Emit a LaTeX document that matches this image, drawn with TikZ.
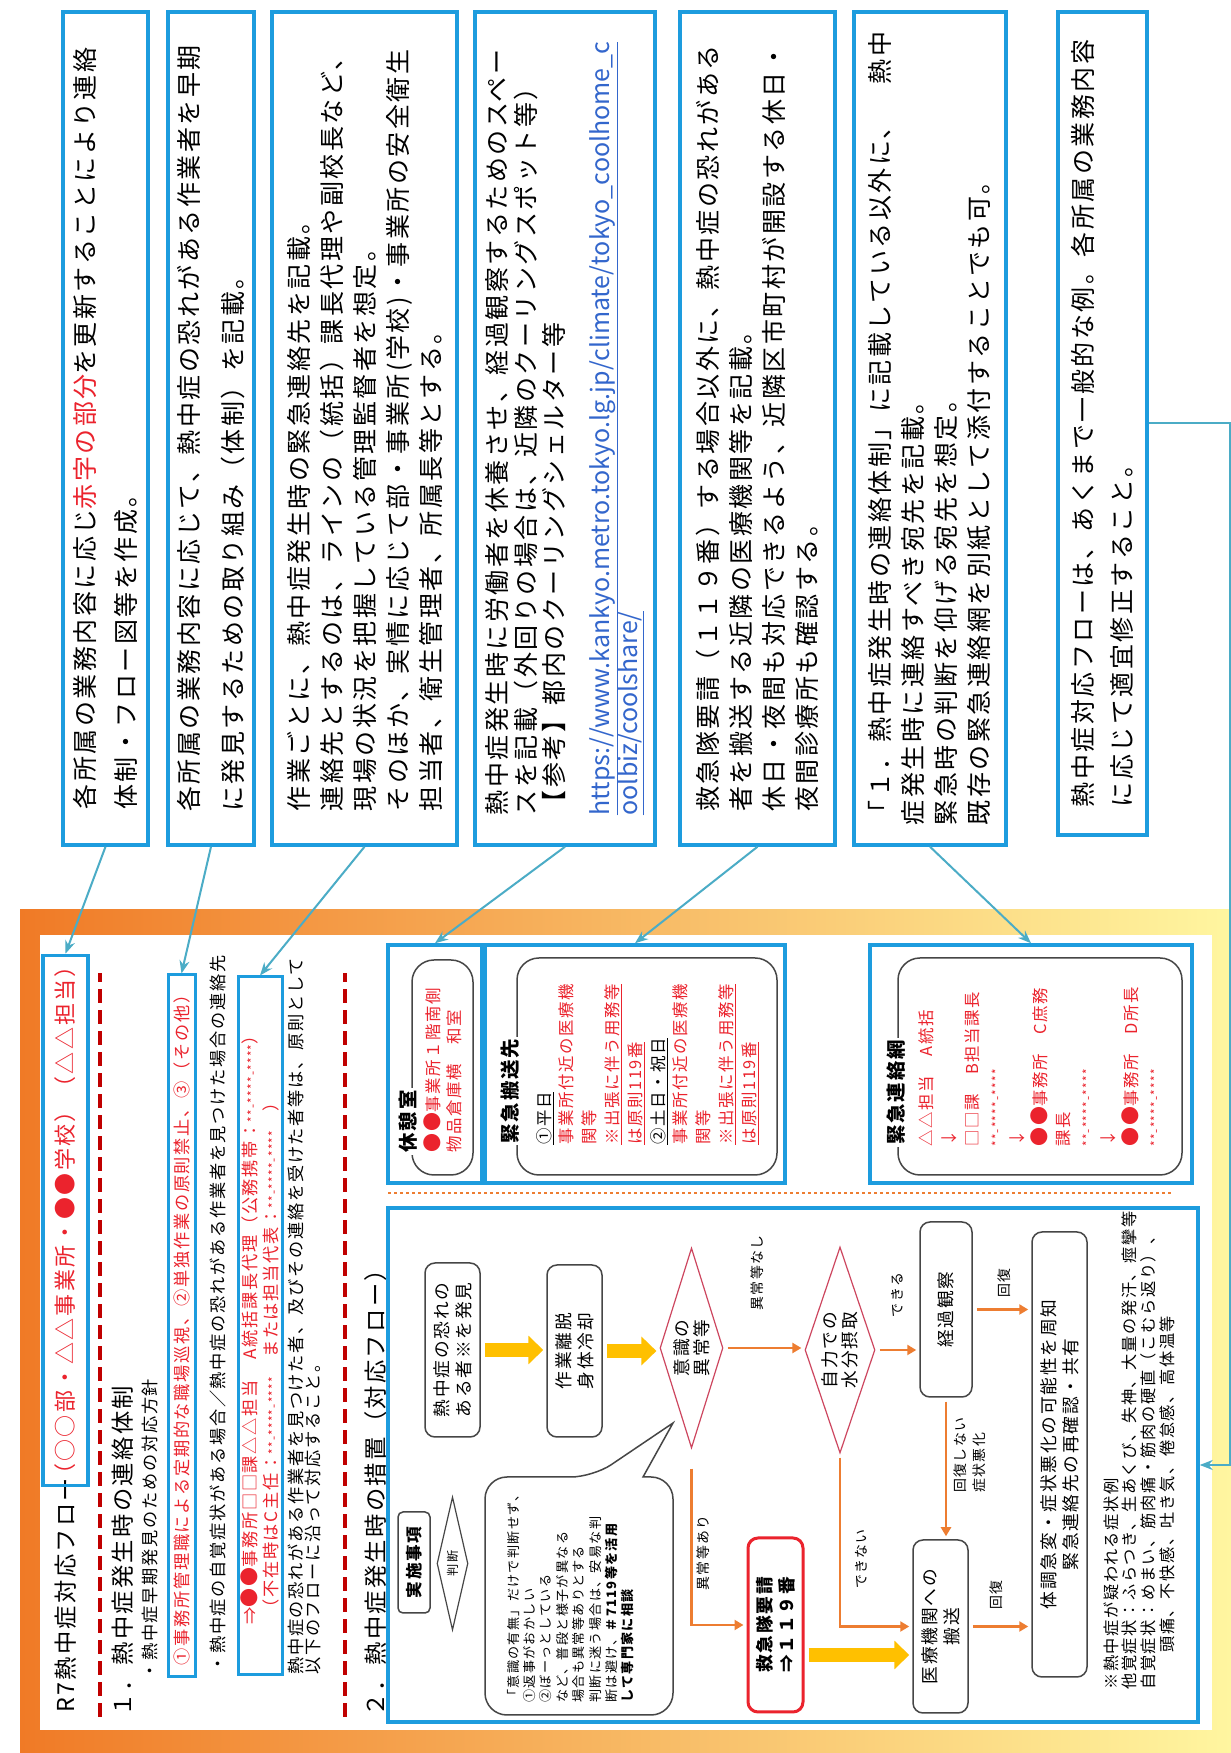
\documentclass[tikz,border=0pt]{standalone}
\usepackage{fontspec}
\setmainfont{Noto Sans CJK JP}[LetterSpace=10]
\newfontfamily\urlfont{Noto Sans CJK JP}
\usepackage{xcolor}
\usepackage{tikz}
\usetikzlibrary{shapes.geometric,arrows.meta,calc}

\definecolor{notebd}{RGB}{29,156,222}
\definecolor{linkln}{RGB}{75,172,198}
\definecolor{redtx}{RGB}{235,35,45}
\definecolor{dashrd}{RGB}{192,0,0}
\definecolor{flowor}{RGB}{237,125,49}
\definecolor{flowyl}{RGB}{255,192,0}
\definecolor{diabd}{RGB}{205,70,95}
\definecolor{grybd}{RGB}{70,70,70}
\definecolor{urlbl}{RGB}{51,102,204}
\definecolor{frmor}{RGB}{240,122,38}
\definecolor{frmyl}{RGB}{255,246,160}

\newcommand{\fsz}[2]{\fontsize{#1}{#2}\selectfont}
\newcommand{\telno}{{\fsz{12}{12}**-****-****}}
\newcommand{\bigdots}{{\fsz{19}{19}●●}}

\tikzset{
  note/.style={draw=notebd, line width=3.5pt, minimum width=833pt, inner sep=0pt, align=left, font=\fsz{25}{33}},
  hdg/.style={anchor=west, inner sep=0pt, font=\fsz{23.3}{25}},
  body/.style={anchor=west, inner sep=0pt, align=left, font=\fsz{17.2}{17.5}},
  redbox/.style={draw=notebd, line width=3pt, inner sep=0pt, text=redtx},
  link/.style={draw=linkln, line width=2pt, -{Stealth[length=13pt,width=10pt]}},
  secline/.style={draw=dashrd, line width=4.5pt, dash pattern=on 14pt off 7pt},
  infobox/.style={draw=notebd, line width=3.5pt, minimum width=238pt, inner sep=0pt},
  tag/.style={draw=grybd, line width=1.5pt, rounded corners=22pt},
  legend/.style={fill=white, inner sep=2pt, font=\bfseries\fsz{19.4}{21}},
  redlist/.style={anchor=west, inner sep=0pt, align=left, text=redtx},
  act/.style={draw=grybd, line width=1.5pt, rounded corners=10pt, align=center, inner sep=0pt, font=\fsz{17.7}{22}},
  judge/.style={diamond, draw=diabd, line width=1.2pt, align=center, inner sep=0pt, font=\fsz{17.7}{20}},
  orarrow/.style={draw=flowor, line width=2.5pt, -{Triangle[length=9pt,width=10pt]}, shorten <=4pt, shorten >=3pt},
  yelarrow/.style={draw=flowyl, line width=14pt, -{Triangle[length=15pt,width=28pt]}, shorten <=4pt, shorten >=3pt},
  lbl/.style={inner sep=0pt, font=\fsz{13.9}{19}}
}

\begin{document}
\begin{tikzpicture}[x=1pt,y=1pt]
\useasboundingbox (0,0) rectangle (1231,1753);
\fill[white] (0,0) rectangle (1231,1753);
% frame round the flow sheet
\fill[left color=frmor, right color=frmyl] (20,0) rectangle (1231,843);
\fill[white] (40,23) rectangle (1212,818);

\begin{scope}[rotate=90, transform shape]
% notes
\node[note, minimum height=85pt] (note1) at (1324.5,-105.5) {各所属の業務内容に応じ\textcolor{redtx}{赤字の部分}を更新することにより連絡\\[8pt]体制・フロー図等を作成。};
\node[note, minimum height=86pt] (note2) at (1324.5,-211) {各所属の業務内容に応じて、熱中症の恐れがある作業者を早期\\[11pt]に発見するための取り組み（体制）を記載。};
\node[note, minimum height=185pt] (note3) at (1324.5,-364.5) {作業ごとに、熱中症発生時の緊急連絡先を記載。\\連絡先とするのは、ラインの（統括）課長代理や副校長など、\\現場の状況を把握している管理監督者を想定。\\そのほか、実情に応じて部・事業所(学校)・事業所の安全衛生\\担当者、衛生管理者、所属長等とする。};
\node[note, minimum height=180pt, font=\fsz{25}{28.5}] (note4) at (1324.5,-565) {熱中症発生時に労働者を休養させ、経過観察するためのスペー\\スを記載（外回りの場合は、近隣のクーリングスポット等）\\【参考】都内のクーリングシェルター等\\[17pt]{\urlfont\fsz{25}{28.5}\color{urlbl}\underline{https://www.kankyo.metro.tokyo.lg.jp/climate/tokyo\_coolhome\_c}}\\{\urlfont\fsz{25}{28.5}\color{urlbl}\underline{oolbiz/coolshare/}}};
\node[note, minimum height=155pt] (note5) at (1324.5,-757.5) {救急隊要請（１１９番）する場合以外に、熱中症の恐れがある\\者を搬送する近隣の医療機関等を記載。\\休日・夜間も対応できるよう、近隣区市町村が開設する休日・\\夜間診療所も確認する。};
\node[note, minimum height=152pt] (note6) at (1324.5,-930) {「１．熱中症発生時の連絡体制」に記載している以外に、　熱中\\症発生時に連絡すべき宛先を記載。\\緊急時の判断を仰げる宛先を想定。\\既存の緊急連絡網を別紙として添付することでも可。};
\node[note, minimum width=823pt, minimum height=89pt] (note7) at (1329.5,-1102.5) {熱中症対応フローは、あくまで一般的な例。各所属の業務内容\\[6pt]に応じて適宜修正すること。};

% section 1
\node[inner sep=0pt, anchor=west, font=\fsz{23.3}{25}] (ttl) at (40,-65.5) {R7熱中症対応フロー};
\node[redbox, line width=3.5pt, minimum width=495pt, minimum height=45pt, font=\fsz{22}{24}] (ttlbox) at (532.5,-65.5) {（○○部・△△事業所・●●学校）（△△担当）};
\draw[secline] (36,-100) -- (780,-100);
\node[hdg] (sec1) at (36,-123) {１．熱中症発生時の連絡体制};
\node[body] (aim) at (73,-150) {・熱中症早期発見のための対応方針};
\node[redbox, minimum width=702pt, minimum height=27pt, font=\fsz{17.2}{17.5}] (rb1) at (427,-181.5) {①事務所管理職による定期的な職場巡視、②単独作業の原則禁止、③（その他）};
\node[body] (call) at (80,-218) {・熱中症の自覚症状がある場合／熱中症の恐れがある作業者を見つけた場合の連絡先};
\node[redbox, minimum width=698pt, minimum height=44pt, align=left, font=\fsz{17.2}{21}] (rb2) at (427,-260) {⇒\bigdots 事務所□□課△△担当　A統括課長代理（公務携帯：\telno）\\\hspace*{8pt}（不在時はC主任：\telno　または担当代表：\telno　）};
\node[body] (rule) at (78,-304.5) {熱中症の恐れがある作業者を見つけた者、及びその連絡を受けた者等は、原則として\\以下のフローに沿って対応すること。};
\draw[secline] (36,-345) -- (780,-345);
\node[hdg] (sec2) at (36,-376) {２．熱中症発生時の措置（対応フロー）};

% rest room, transfer, contact
\node[infobox, minimum height=94pt] (rest) at (689,-435) {};
\node[infobox, minimum height=300pt] (transfer) at (689,-635) {};
\node[infobox, minimum height=322pt] (contact) at (689,-1031) {};
\draw[tag] (578,-412) rectangle (793,-473);
\draw[tag] (578,-517) rectangle (795,-777);
\draw[tag] (578,-898) rectangle (795,-1182);
\node[legend] (restlbl) at (631.5,-408) {休憩室};
\node[legend] (translbl) at (662,-510) {緊急搬送先};
\node[legend] (contlbl) at (660.5,-896) {緊急連絡網};
\node[redlist, font=\fsz{16.4}{21}] (restinfo) at (600,-442.5) {\bigdots 事業所１階南側\\物品倉庫横　和室};
\node[redlist, font=\fsz{16.4}{22.8}] (transinfo) at (608,-647.5) {\textcolor{black}{\underline{①平日}}\\事業所付近の医療機\\関等\\\underline{※出張に伴う用務等}\\\underline{は原則119番}\\\textcolor{black}{\underline{②土日・祝日}}\\事業所付近の医療機\\関等\\\underline{※出張に伴う用務等}\\\underline{は原則119番}};
\node[redlist, font=\fsz{16.4}{22.7}] (continfo) at (606,-1039.5) {△△担当　A統括\\↓\\□□課　B担当課長\\\telno\\↓\\\bigdots 事務所　C庶務\\課長\\\telno\\↓\\\bigdots 事務所　D所長\\\telno};
\draw[flowor, line width=2.5pt, dash pattern=on 3pt off 3pt] (560,-388) -- (560,-1173);

% flow
\node[draw=notebd, line width=3.5pt, minimum width=514pt, minimum height=810pt] (flow) at (288,-793) {};
\node[act, rounded corners=5pt, minimum width=101pt, minimum height=32pt, font=\bfseries\fsz{16.6}{18}] (keyact) at (190.5,-414) {実施事項};
\node[judge, draw=grybd, aspect=4.3, minimum width=133pt, minimum height=31pt, font=\fsz{12.2}{13}] (keyjdg) at (189.5,-452.5) {判断};
\draw[grybd, line width=1.5pt, rounded corners=22pt] (38,-485) -- (276,-485) -- (276,-593) [sharp corners] -- (330,-673) -- (276,-643) [rounded corners=22pt] -- (276,-673) -- (38,-673) -- cycle;
\node[anchor=west, align=left, inner sep=0pt, font=\fsz{13.1}{16.4}] (bubtx) at (50,-570.5) {「意識の有無」だけで判断せず、\\①返事がおかしい\\②ぼーっとしている\\など、普段と様子が異なる\\場合も異常等ありとする\\判断に迷う場合は、安易な判\\断は避け、\textbf{＃7119等を活用}\\\textbf{して専門家に相談}};

\node[act, minimum width=174pt, minimum height=55pt] (find) at (403,-452.5) {熱中症の恐れの\\ある者※を発見};
\node[act, minimum width=172pt, minimum height=55pt] (cool) at (402,-574.5) {作業離脱\\身体冷却};
\node[judge, aspect=3.17, minimum width=200pt, minimum height=63pt] (conc) at (405,-691.5) {意識の\\異常等};
\node[judge, aspect=2.94, minimum width=206pt, minimum height=70pt] (drink) at (403,-840) {自力での\\水分摂取};
\node[act, minimum width=175pt, minimum height=52pt] (watch) at (443.5,-946) {経過観察};
\node[act, minimum width=173pt, minimum height=55pt] (hosp) at (126.5,-940.5) {医療機関への\\搬送};
\node[act, minimum width=445pt, minimum height=55pt] (share) at (298.5,-1059.5) {体調急変・症状悪化の可能性を周知\\緊急連絡先の再確認・共有};
\node[act, draw=redtx, line width=3pt, align=left, minimum width=174pt, minimum height=55pt, font=\bfseries\fsz{17.7}{22}] (call119) at (128,-775.5) {救急隊要請\\⇒１１９番};

\draw[yelarrow] (find.south) -- (find.south |- cool.north);
\draw[yelarrow] (cool.south) -- (cool.south |- conc.north);
\draw[orarrow] (conc.south) -- (conc.south |- drink.north);
\draw[orarrow] (drink.south) -- (drink.south |- watch.north);
\draw[orarrow] (watch.south) -- (watch.south |- share.north);
\draw[orarrow] (watch.west) -- (watch.west -| hosp.east);
\draw[orarrow] (drink.west) -| (hosp.north);
\draw[orarrow] (hosp.south) -- (hosp.south |- share.north);
\draw[orarrow, shorten <=20pt] (conc.west) -| (call119.north);
\draw[yelarrow] ($(call119.south)+(-30,0)$) -- ($(hosp.north)+(-28.5,0)$);

\node[lbl] (lnone) at (480,-757) {異常等なし};
\node[lbl] (lcan) at (458,-897) {できる};
\node[lbl] (lrec1) at (470,-1004) {回復};
\node[lbl, anchor=west, align=left] (lworse) at (260,-970) {回復しない\\症状悪化};
\node[lbl] (lcannot) at (194,-861) {できない};
\node[lbl] (lrec2) at (158,-996) {回復};
\node[lbl] (lsome) at (200,-703) {異常等あり};

\node[anchor=west, align=left, inner sep=0pt, font=\fsz{16.2}{18.7}] (symp) at (63,-1139) {※熱中症が疑われる症状例\\他覚症状：ふらつき、生あくび、失神、大量の発汗、痙攣等\\自覚症状：めまい、筋肉痛・筋肉の硬直（こむら返り）、\\\hspace*{37pt}頭痛、不快感、吐き気、倦怠感、高体温等};

% arrows from the notes
\draw[link] (note1.west) -- (ttlbox.east);
\draw[link] (note2.west) -- (rb1.east);
\draw[link] (note3.west) -- (rb2.east);
\draw[link] (note4.west) -- (rest.east);
\draw[link] (note5.west) -- (transfer.east);
\draw[link] (note6.west) -- (contact.east);
\draw[link] (note7.south) -- ++(0,-81) -| (flow.south);
\end{scope}
\end{tikzpicture}
\end{document}
